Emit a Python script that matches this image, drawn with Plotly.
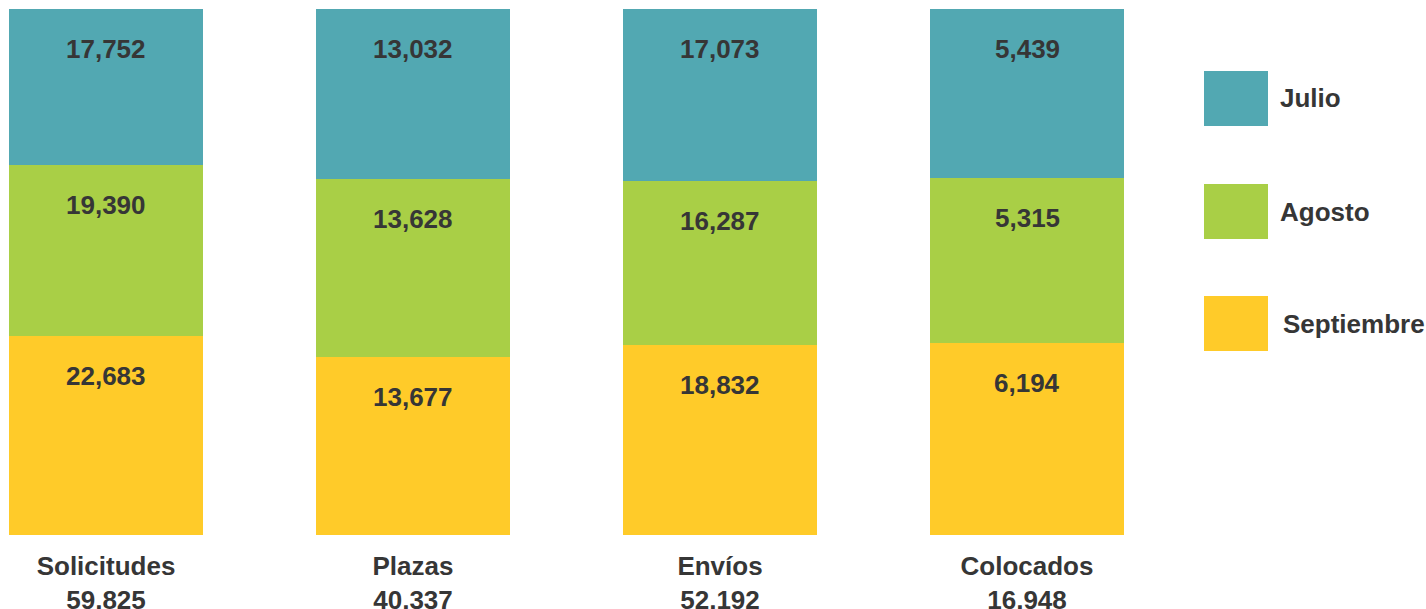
import plotly.graph_objects as go

categories = ["Solicitudes", "Plazas", "Envíos", "Colocados"]
julio = [17752, 13032, 17073, 5439]
agosto = [19390, 13628, 16287, 5315]
septiembre = [22683, 13677, 18832, 6194]
series_names = ["Septiembre", "Agosto", "Julio"]
colors = {"Julio": "#52A8B2", "Agosto": "#A9CF46", "Septiembre": "#FFCB29"}

W, H = 1426, 609
MT = 9
PLOT_BOTTOM = 535
MB = H - PLOT_BOTTOM
PLOT_H = PLOT_BOTTOM - MT
FONT = "Liberation Sans, Arial, sans-serif"
TXT = "#363636"

series = {"Septiembre": septiembre, "Agosto": agosto, "Julio": julio}
totals = [a + b + c for a, b, c in zip(julio, agosto, septiembre)]

fig = go.Figure()
for name in series_names:
    fig.add_trace(go.Bar(
        x=categories, y=series[name], name=name,
        marker=dict(color=colors[name], line=dict(width=0)),
        showlegend=False, hoverinfo="skip",
    ))

# value labels near the top of each segment
offset = 40 / PLOT_H * 100
annotations = []
for i, cat in enumerate(categories):
    cum = 0.0
    for name in series_names:
        v = series[name][i]
        cum += v / totals[i] * 100
        annotations.append(dict(
            x=cat, y=cum - offset, xref="x", yref="y",
            text=f"<b>{v:,}</b>", showarrow=False,
            font=dict(family=FONT, size=26, color=TXT),
            xanchor="center", yanchor="middle",
        ))

# custom legend (pixel positions)
legend_items = [("Julio", 71, 126, 1278), ("Agosto", 184, 239, 1278), ("Septiembre", 296, 351, 1281)]
shapes = []
def py2paper(py):
    return (PLOT_BOTTOM - py) / PLOT_H
def px2paper(px):
    return px / W
for name, top, bot, tx in legend_items:
    shapes.append(dict(type="rect", xref="paper", yref="paper",
                       x0=px2paper(1204), x1=px2paper(1268), y0=py2paper(bot), y1=py2paper(top),
                       fillcolor=colors[name], line=dict(width=0)))
    annotations.append(dict(x=px2paper(tx), y=py2paper((top + bot) / 2), xref="paper", yref="paper",
                            text=f"<b>{name}</b>", showarrow=False,
                            font=dict(family=FONT, size=26, color=TXT),
                            xanchor="left", yanchor="middle"))

unit = 307
x0 = -106 / unit
fig.update_layout(
    width=W, height=H,
    barmode="stack", barnorm="percent", bargap=1 - 194 / unit,
    margin=dict(l=0, r=0, t=MT, b=MB, pad=0, autoexpand=False),
    paper_bgcolor="white", plot_bgcolor="white",
    xaxis=dict(
        range=[x0, x0 + W / unit],
        tickmode="array", tickvals=categories,
        ticktext=[f"<b>{c}</b><br><b>{t:,}</b>" for c, t in zip(categories, totals)],
        tickfont=dict(family=FONT, size=26, color=TXT),
        ticklabelstandoff=13, automargin=False,
        showgrid=False, zeroline=False, showline=False, ticks="",
    ),
    yaxis=dict(range=[0, 100], visible=False, showgrid=False, zeroline=False, automargin=False),
    annotations=annotations, shapes=shapes,
    showlegend=False,
)

fig.write_html(
    "out.html",
    config={"displayModeBar": False, "staticPlot": True},
    post_script="document.body.style.margin='0';document.body.style.overflow='hidden';",
)
